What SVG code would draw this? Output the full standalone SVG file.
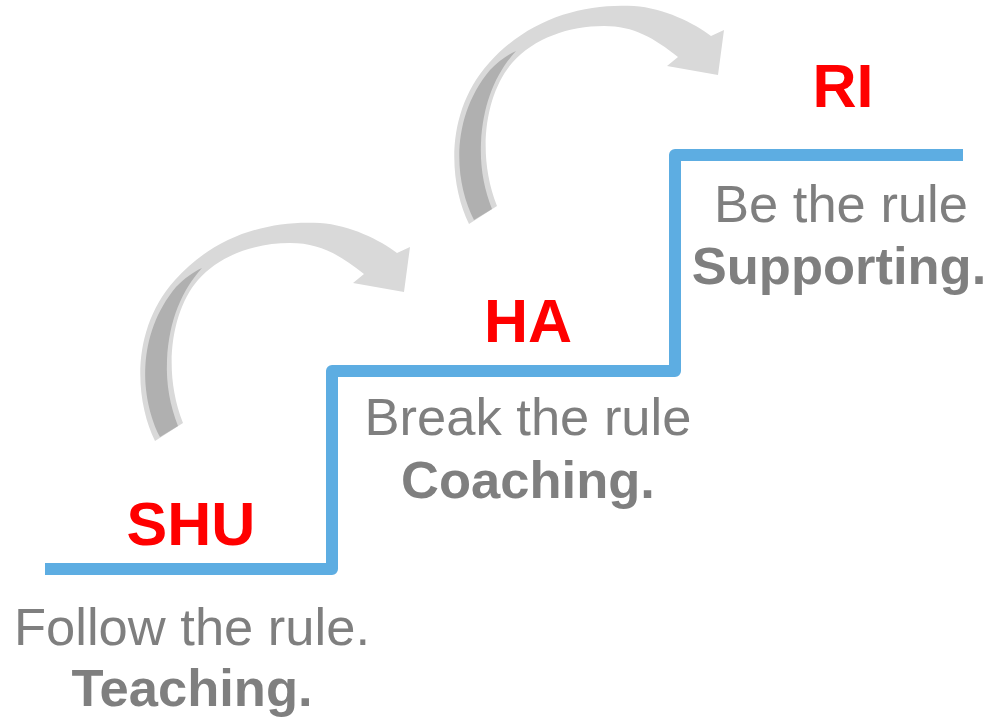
<svg xmlns="http://www.w3.org/2000/svg" width="993" height="722" viewBox="0 0 993 722">
  <defs>
    <style>
      .stair { fill: none; stroke: #5dade2; stroke-width: 12; stroke-linejoin: round; }
      .title { font-family: "Liberation Sans", Arial, sans-serif; font-weight: bold; font-size: 61px; fill: #ff0000; text-anchor: middle; }
      .desc { font-family: "Liberation Sans", Arial, sans-serif; font-size: 52.5px; fill: #7f7f7f; text-anchor: middle; }
      .role { font-family: "Liberation Sans", Arial, sans-serif; font-weight: bold; font-size: 52.5px; fill: #7f7f7f; text-anchor: middle; }
      .arrow-light { fill: #d9d9d9; }
      .arrow-dark { fill: #b0b0b0; }
    </style>
    <g id="curved-arrow">
      <path class="arrow-light" d="M155,441 C135,400 130,330 175,280 C215,235 270,220 320,223 C350,225 380,240 397,253 L410,247 L404,292 L353,283 L364,274 C340,255 320,243 290,243 C255,243 220,255 198,280 C172,310 162,370 183,423 Z"/>
      <path class="arrow-dark" d="M160,437 C140,398 136,335 176,287 C185,278 193,272 202,268 C182,290 169,320 167,360 C166,385 170,405 178,426 Z"/>
    </g>
  </defs>
  <rect width="993" height="722" fill="#ffffff"/>
  <g id="stairs">
    <path class="stair" d="M45,569 L332,569 L332,371 L675,371 L675,155 L963,155"/>
  </g>
  <g id="connectors">
    <use href="#curved-arrow"/>
    <use href="#curved-arrow" transform="translate(314,-217)"/>
  </g>
  <g id="shu">
    <text class="title" x="191" y="545">SHU</text>
    <text class="desc" x="192" y="645">Follow the rule.</text>
    <text class="role" x="192" y="706">Teaching.</text>
  </g>
  <g id="ha">
    <text class="title" x="528" y="342">HA</text>
    <text class="desc" x="528" y="435">Break the rule</text>
    <text class="role" x="528" y="498">Coaching.</text>
  </g>
  <g id="ri">
    <text class="title" x="843" y="107">RI</text>
    <text class="desc" x="841" y="222">Be the rule</text>
    <text class="role" x="839" y="284">Supporting.</text>
  </g>
</svg>
